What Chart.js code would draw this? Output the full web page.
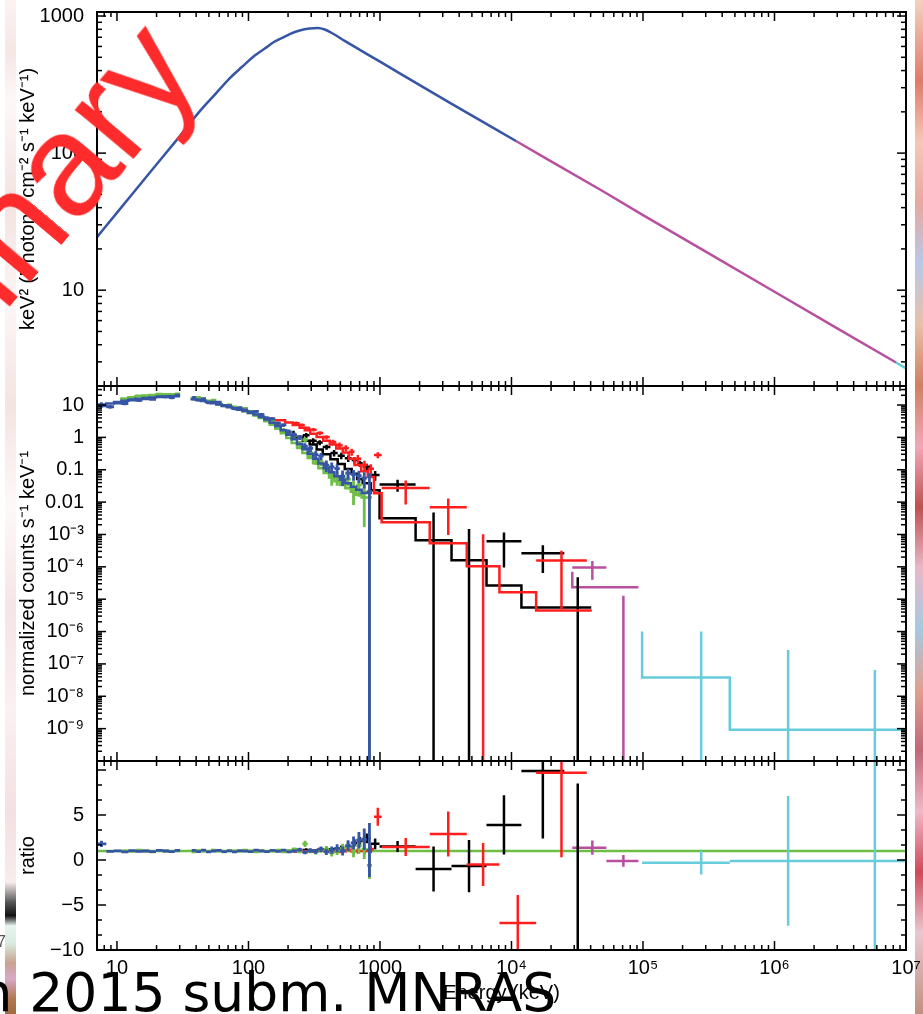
<!DOCTYPE html>
<html><head><meta charset="utf-8">
<script src="https://cdn.jsdelivr.net/npm/chart.js@4.4.1/dist/chart.umd.min.js"></script>
<style>
html,body{margin:0;padding:0;background:#fff;}
#wrap{position:relative;width:923px;height:1014px;overflow:hidden;background:#fff;}
#wrap canvas{position:absolute;left:0;top:0;}
#stripL{position:absolute;left:5px;top:0;width:11px;height:1014px;
 background:linear-gradient(to bottom,#fbf3f3 0%,#f6e6e6 5%,#fdf8f8 10%,#f4e2e2 20%,#fcf6f6 30%,#f5e3e3 40%,#fdf9f9 50%,#f6e4e6 60%,#fbf0f2 70%,#f4e0e2 80%,#f8ecec 87%,#555 89%,#111 90.3%,#e8f4f0 91.3%,#d8ece0 93%,#c9a28f 95%,#d7a8c8 96.5%,#b07850 98.5%,#a06a40 100%);}
#stripR{position:absolute;left:915px;top:0;width:8px;height:1014px;
 background:linear-gradient(to bottom,#f3d2c0 0%,#e07a6a 8%,#f5c8b8 14%,#e8a8a0 20%,#b8c8e8 26%,#e8c0a8 32%,#d08060 38%,#f0a8b8 44%,#c05050 50%,#e8b8c8 56%,#a8c8e0 62%,#e0a090 68%,#c06878 74%,#f0b8c8 80%,#d04858 86%,#e8c8d0 92%,#c09080 100%);}
#wm{position:absolute;left:-258px;top:505px;font:144px/1 "Liberation Sans",Arial,sans-serif;color:#fd2b2b;white-space:nowrap;transform-origin:0 122px;transform:rotate(-50deg);}
#cap{position:absolute;left:-21.6px;top:965.7px;font:53.5px/53.5px "DejaVu Sans",sans-serif;color:#000;white-space:nowrap;}
#seven{position:absolute;left:-3px;top:934px;font:16px/1 "Liberation Sans",Arial,sans-serif;color:#555;}
</style></head><body><div id="wrap">
<div id="stripL"></div><div id="stripR"></div>
<canvas id="cA" width="923" height="1014"></canvas>
<canvas id="cB" width="923" height="1014"></canvas>
<canvas id="cC" width="923" height="1014"></canvas>
<div id="wm">Preliminary</div>
<div id="seven">7</div>
<div id="cap">n 2015 subm. MNRAS</div>
</div>
<script>
// ================= DATA =================
const xMin = 7.05, xMax = 1e7;
const xTickVals = [10, 100, 1000, 1e4, 1e5, 1e6, 1e7];
const xTickLabels = ['10', '100', '1000', '10⁴', '10⁵', '10⁶', '10⁷'];
const aTickVals = [10, 100, 1000];
const aTickLabels = ['10', '100', '1000'];
const bTickVals = [10, 1, 0.1, 0.01, 1e-3, 1e-4, 1e-5, 1e-6, 1e-7, 1e-8, 1e-9];
const bTickLabels = ['10', '1', '0.1', '0.01', '10⁻³', '10⁻⁴', '10⁻⁵', '10⁻⁶', '10⁻⁷', '10⁻⁸', '10⁻⁹'];
const cTickVals = [5, 0, -5, -10];
const cTickLabels = ['5', '0', '−5', '−10'];

// top panel: model E^2 N(E)
const topBlueE = [7.05, 10.53, 17.8, 27.6, 42.7, 55.5, 72.2, 89, 111.7, 133, 158.5, 182.3, 206, 245, 292, 336, 380, 437, 539, 994, 3380, 10900];
const topBlueF = [24.4, 39.0, 72.1, 120.3, 202.6, 267.3, 352.7, 424.4, 514.8, 579.2, 651.4, 696.6, 739, 784, 810.6, 817.4, 797, 745.4, 659.2, 466.3, 233.7, 122];
const topMagE = [10900, 20000, 50000, 1e5, 3e5, 1e6, 3e6, 8.4e6];
const topMagF = [122, 87, 52.5, 35.3, 19.1, 9.74, 5.27, 2.97];
const topCyanE = [8.4e6, 1e7];
const topCyanF = [2.97, 2.69];

// NaI detectors (green, blue): bin edges, model counts, data/model ratio, ratio error
const naiEdges = [7.0, 8.3, 9.5, 10.8, 12.2, 13.8, 15.6, 17.6, 19.8, 22.2, 24.8, 27.5, 30.2, 37, 40, 43.5, 47.5, 52, 57, 62.5, 68.5, 75, 82, 90, 99, 109, 120, 132, 145, 160, 176, 194, 213, 234, 257, 282, 310, 340, 373, 410, 450, 495, 545, 600, 660, 725, 795, 870];
const blueModel = [5.7, 9.3, 11.2, 12.4, 13.6, 14.6, 15.6, 16.4, 17.2, 17.8, 18.3, 18.6, null,
  16.0, 15.2, 14.3, 13.3, 12.3, 11.3, 10.3, 9.4, 8.6, 7.9, 7.2, 6.5, 5.8, 5.05, 4.3, 3.55, 2.85, 2.2, 1.65, 1.2, 0.87, 0.62, 0.44, 0.31, 0.22, 0.155, 0.112, 0.083, 0.063, 0.049, 0.038, 0.030, 0.024, 0.019];
const blueRatio = [1.8, 0.95, 1.02, 0.9, 1.05, 0.95, 1.0, 0.92, 1.06, 1.0, 0.93, 1.08, null,
  1.06, 0.94, 1.1, 0.9, 1.0, 1.08, 0.94, 1.02, 0.9, 1.05, 0.98, 0.94, 1.1, 1.0, 0.92, 1.06, 0.95, 1.1, 0.9, 1.0, 1.15, 0.85, 1.05, 0.95, 1.2, 0.9, 1.1, 1.3, 1.0, 1.6, 1.9, 2.2, 2.3, 1.1];
const blueErr = [0.35, 0.12, 0.1, 0.1, 0.1, 0.1, 0.1, 0.1, 0.1, 0.1, 0.1, 0.12, null,
  0.12, 0.1, 0.1, 0.1, 0.1, 0.1, 0.1, 0.1, 0.1, 0.1, 0.1, 0.1, 0.12, 0.12, 0.12, 0.13, 0.14, 0.15, 0.16, 0.18, 0.2, 0.22, 0.25, 0.28, 0.3, 0.35, 0.4, 0.45, 0.5, 0.6, 0.7, 0.9, 1.2, 3.0];
const greenModel = [null, null, null, 14.5, 16.0, 17.5, 18.8, 19.8, 20.5, 21.0, 21.3, 21.5, null,
  17.5, 16.5, 15.2, 14.1, 12.9, 11.7, 10.6, 9.6, 8.8, 8.0, 7.2, 6.4, 5.6, 4.75, 3.95, 3.15, 2.45, 1.85, 1.35, 0.95, 0.67, 0.47, 0.33, 0.23, 0.16, 0.112, 0.08, 0.058, 0.044, 0.034, 0.027, 0.021, 0.017, 0.014];
const greenRatio = [null, null, null, 1.0, 0.95, 1.1, 1.0, 0.9, 1.05, 1.0, 0.95, 1.02, null,
  0.9, 1.05, 1.0, 0.95, 1.1, 1.0, 0.9, 1.05, 1.0, 0.95, 1.1, 1.0, 0.9, 1.05, 0.95, 1.0, 1.1, 0.9, 1.05, 1.2, 0.95, 1.8, 1.0, 0.9, 1.1, 1.2, 0.8, 1.0, 1.3, 1.5, 1.0, 1.6, 1.2, -0.6];
const greenErr = [null, null, null, 0.12, 0.1, 0.1, 0.1, 0.1, 0.1, 0.1, 0.1, 0.12, null,
  0.12, 0.1, 0.1, 0.1, 0.1, 0.1, 0.1, 0.1, 0.1, 0.1, 0.1, 0.1, 0.12, 0.12, 0.12, 0.13, 0.14, 0.15, 0.16, 0.18, 0.2, 0.35, 0.25, 0.28, 0.3, 0.35, 0.4, 0.45, 0.5, 0.6, 0.7, 0.9, 1.1, 1.5];

// BGO detectors (black, red)
const blackEdges = [220, 259, 292, 330, 367, 420, 477, 540, 609, 670, 739, 850, 993, 1866, 3500, 6460, 11900, 25200, 40400];
const blackModel = [1.6, 1.05, 0.78, 0.6, 0.42, 0.3, 0.21, 0.15, 0.105, 0.075, 0.052, 0.038, 0.0234, 3.18e-3, 6.6e-4, 1.59e-4, 2.67e-5, 5.57e-6];
const blackRatio = [null, 1.1, 1.0, 1.15, 1.2, 1.1, 1.3, 1.5, 1.9, 2.1, 2.4, 1.8, 1.5, -1.0, -0.67, 3.9, 9.9, -12];
const blackErr = [null, 0.2, 0.2, 0.2, 0.22, 0.25, 0.3, 0.35, 0.4, 0.45, 0.55, 0.6, 0.6, 2.5, 2.9, 3.3, 7.5, 20.5];
const redEdges = [150, 190, 217, 245, 268, 295, 330, 370, 415, 465, 521, 580, 640, 720, 807, 900, 1030, 2390, 4570, 8100, 15400, 37400, 40800];
const redModel = [4.3, 3.4, 2.9, 2.4, 2.0, 1.65, 1.3, 1.02, 0.78, 0.6, 0.45, 0.34, 0.22, 0.14, 0.09, 0.06, 0.0189, 2.39e-3, 5.35e-4, 1.04e-4, 1.63e-5, 4.5e-6];
const redRatio = [null, null, 0.95, 1.0, 0.97, 1.05, 1.05, 1.0, 0.92, 0.95, 1.05, 1.05, 1.0, 1.0, 1.2, 4.8, 1.45, 2.9, -0.5, -7.0, 9.7, null];
const redErr = [null, null, 0.12, 0.12, 0.12, 0.13, 0.14, 0.15, 0.17, 0.2, 0.22, 0.25, 0.3, 0.35, 0.45, 1.0, 1.0, 2.5, 2.4, 3.1, 9.4, null];

// LAT LLE (magenta) and LAT (cyan)
const magEdges = [29000, 52700, 92300];
const magCenters = [41200, 70950];
const magModel = [7.0e-5, 2.32e-5];
const magRatio = [1.37, -0.1];
const magErr = [0.8, 0.65];
const cyanEdges = [98500, 457000, 2100000, 9800000];
const cyanCenters = [277000, 1270000, 5800000];
const cyanModel = [1.0e-6, 3.8e-8, 9.3e-10];
const cyanRatio = [-0.3, -0.1, -0.1];
const cyanErr = [1.3, 7.2, 70];

const unityE = [7, 1e7];
const unityR = [1, 1];

// ================= COLOURS =================
const COL = {black:'#000000', red:'#ff1e1e', green:'#6ebe46', blue:'#3755a5', mag:'#b8509f', cyan:'#66cbdb'};

// ================= HELPERS =================
function steps(edges, vals){
  const pts = [];
  for (let i = 0; i < vals.length; i++){
    const v = vals[i];
    if (v == null){ pts.push({x:edges[i], y:null}); continue; }
    pts.push({x:edges[i], y:v});
    if (i === vals.length - 1 || vals[i+1] == null) pts.push({x:edges[i+1], y:v});
  }
  return pts;
}
function crosses(edges, centers, vals, errs, isLog){
  const pts = [], floor = 1e-14;
  for (let i = 0; i < vals.length; i++){
    const v = vals[i], e = errs[i];
    if (v == null || e == null) continue;
    const xc = centers ? centers[i] : Math.sqrt(edges[i]*edges[i+1]);
    const hi = v + e, lo = v - e;
    if (!isLog || v > 0) pts.push({x:edges[i], y:v}, {x:edges[i+1], y:v}, {x:xc, y:null});
    if (!isLog || hi > 0) pts.push({x:xc, y:(isLog && lo <= 0) ? floor : lo}, {x:xc, y:hi}, {x:xc, y:null});
  }
  return pts;
}
function mul(a, b){ return a.map((v, i) => (v == null || b[i] == null) ? null : v*b[i]); }
function curve(E, F){ return E.map((e, i) => ({x:e, y:F[i]})); }
function lab(vals, labels){ return v => { const i = vals.indexOf(v); return i >= 0 ? labels[i] : ''; }; }

function logMarks(lo, hi){
  const m = [];
  for (let d = -12; d <= 8; d++) for (let k = 1; k <= 9; k++){
    const v = k*Math.pow(10, d);
    if (v >= lo*0.999 && v <= hi*1.001) m.push({v:v, major:k === 1});
  }
  return m;
}
const xMarks = logMarks(xMin, xMax);
const cMarks = [];
[-10, -5, 0, 5, 10].forEach(v => cMarks.push({v:v, major:true}));
[-25/3, -20/3, -10/3, -5/3, 5/3, 10/3, 20/3, 25/3].forEach(v => cMarks.push({v:v, major:false}));

function framePlugin(yMarks){
  return {
    id:'frame',
    afterDatasetsDraw(chart){
      const ctx = chart.ctx, a = chart.chartArea, xs = chart.scales.x, ys = chart.scales.y;
      ctx.save();
      ctx.strokeStyle = '#000'; ctx.lineWidth = 1.5;
      const seg = (x1, y1, x2, y2) => { ctx.beginPath(); ctx.moveTo(x1, y1); ctx.lineTo(x2, y2); ctx.stroke(); };
      xMarks.forEach(m => {
        const p = xs.getPixelForValue(m.v);
        if (p < a.left + 1 || p > a.right - 1) return;
        const L = m.major ? 9 : 5;
        seg(p, a.top, p, a.top + L); seg(p, a.bottom, p, a.bottom - L);
      });
      yMarks.forEach(m => {
        const p = ys.getPixelForValue(m.v);
        if (p < a.top + 1 || p > a.bottom - 1) return;
        const L = m.major ? 9 : 5;
        seg(a.left, p, a.left + L, p); seg(a.right, p, a.right - L, p);
      });
      ctx.lineWidth = 2;
      ctx.strokeRect(a.left, a.top, a.right - a.left, a.bottom - a.top);
      ctx.restore();
    }
  };
}

Chart.defaults.font.family = '"Liberation Sans", Arial, Helvetica, sans-serif';
Chart.defaults.font.size = 20;
Chart.defaults.color = '#000';

function lineDs(data, color, extra){
  return Object.assign({data:data, borderColor:color, backgroundColor:color, borderWidth:2.5, pointRadius:0, fill:false, tension:0, clip:1}, extra || {});
}

function makeChart(id, cfg){
  const xAxis = {
    type:'logarithmic', min:xMin, max:xMax, position:'bottom',
    display: cfg.showX,
    grid:{display:false, drawTicks:false}, border:{display:false},
    ticks:{autoSkip:false, maxRotation:0, minRotation:0, padding:6, callback:lab(xTickVals, xTickLabels)},
    afterBuildTicks: s => { s.ticks = xTickVals.map(v => ({value:v})); },
    afterFit: s => { s.height = cfg.showX ? 64 : 0; s.paddingLeft = 0; s.paddingRight = 0; },
    title:{display:cfg.showX, text:'Energy (keV)', padding:{top:0, bottom:9}}
  };
  const yAxis = Object.assign({
    position:'left',
    grid:{display:false, drawTicks:false}, border:{display:false},
    ticks:{autoSkip:false, padding:13, callback:lab(cfg.yVals, cfg.yLabels)},
    afterBuildTicks: s => { s.ticks = cfg.yVals.map(v => ({value:v})); },
    afterFit: s => { s.width = 97; s.paddingTop = 0; s.paddingBottom = 0; },
    title:{display:true, text:cfg.yTitle, padding:{top:16.5, bottom:0}}
  }, cfg.y);
  return new Chart(document.getElementById(id), {
    type:'line',
    data:{datasets:cfg.datasets},
    options:{
      responsive:false, animation:false, devicePixelRatio:1, events:[],
      layout:{padding:{left:0, right:17, top:cfg.top, bottom:cfg.bottom}},
      plugins:{legend:{display:false}, tooltip:{enabled:false}},
      scales:{x:xAxis, y:yAxis}
    },
    plugins:[framePlugin(cfg.yMarks)]
  });
}

// ---- Panel A : model ----
makeChart('cA', {
  top:12, bottom:1014-386, showX:false,
  y:{type:'logarithmic', min:2, max:1070},
  yVals:aTickVals, yLabels:aTickLabels, yMarks:logMarks(2, 1070),
  yTitle:'keV² (Photons cm⁻² s⁻¹ keV⁻¹)',
  datasets:[
    lineDs(curve(topCyanE, topCyanF), COL.cyan),
    lineDs(curve(topMagE, topMagF), COL.mag),
    lineDs(curve(topBlueE, topBlueF), COL.blue, {cubicInterpolationMode:'monotone'})
  ]
});

// ---- Panel B : counts ----
const B = [];
B.push(lineDs(crosses(naiEdges, null, mul(blueModel, blueRatio), mul(blueModel, blueErr), true), COL.blue, {borderWidth:2.8}));
B.push(lineDs(steps(naiEdges, blueModel), COL.blue, {stepped:'after'}));
B.push(lineDs(crosses(naiEdges, null, mul(greenModel, greenRatio), mul(greenModel, greenErr), true), COL.green, {borderWidth:2.8}));
B.push(lineDs(steps(naiEdges, greenModel), COL.green, {stepped:'after'}));
B.push(lineDs(crosses(redEdges, null, mul(redModel, redRatio), mul(redModel, redErr), true), COL.red));
B.push(lineDs(steps(redEdges, redModel), COL.red, {stepped:'after'}));
B.push(lineDs(crosses(blackEdges, null, mul(blackModel, blackRatio), mul(blackModel, blackErr), true), COL.black));
B.push(lineDs(steps(blackEdges, blackModel), COL.black, {stepped:'after'}));
B.push(lineDs(crosses(magEdges, magCenters, mul(magModel, magRatio), mul(magModel, magErr), true), COL.mag));
B.push(lineDs(steps(magEdges, magModel), COL.mag, {stepped:'after'}));
B.push(lineDs(crosses(cyanEdges, cyanCenters, mul(cyanModel, cyanRatio), mul(cyanModel, cyanErr), true), COL.cyan));
B.push(lineDs(steps(cyanEdges, cyanModel), COL.cyan, {stepped:'after'}));
makeChart('cB', {
  top:386, bottom:1014-761, showX:false,
  y:{type:'logarithmic', min:1e-10, max:38.7},
  yVals:bTickVals, yLabels:bTickLabels, yMarks:logMarks(1e-10, 38.7),
  yTitle:'normalized counts s⁻¹ keV⁻¹',
  datasets:B
});

// ---- Panel C : ratio ----
const C = [];
C.push(lineDs(crosses(naiEdges, null, blueRatio, blueErr, false), COL.blue, {borderWidth:2.8}));
C.push(lineDs(crosses(naiEdges, null, greenRatio, greenErr, false), COL.green, {borderWidth:2.8}));
C.push(lineDs(crosses(redEdges, null, redRatio, redErr, false), COL.red));
C.push(lineDs(crosses(blackEdges, null, blackRatio, blackErr, false), COL.black));
C.push(lineDs(crosses(magEdges, magCenters, magRatio, magErr, false), COL.mag));
C.push(lineDs(crosses(cyanEdges, cyanCenters, cyanRatio, cyanErr, false), COL.cyan));
C.push(lineDs(curve(unityE, unityR), COL.green));
makeChart('cC', {
  top:761, bottom:0, showX:true,
  y:{type:'linear', min:-10, max:11},
  yVals:cTickVals, yLabels:cTickLabels, yMarks:cMarks,
  yTitle:'ratio',
  datasets:C
});
</script>
</body></html>
